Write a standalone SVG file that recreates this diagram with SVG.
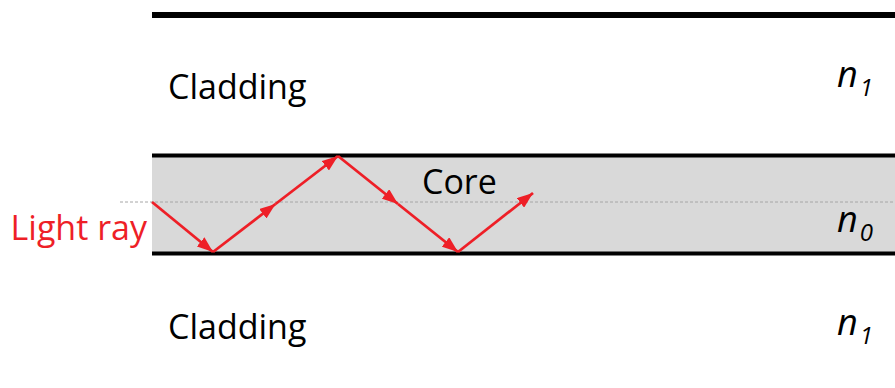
<svg xmlns="http://www.w3.org/2000/svg" width="895" height="388" viewBox="0 0 895 388">
  <style>
    .label { font-family: "Open Sans", "Liberation Sans", sans-serif; font-size: 34px; fill: #000; }
    .idx { font-family: "Open Sans", "Liberation Sans", sans-serif; font-size: 36px; font-style: italic; fill: #000; }
    .sub { font-size: 24px; }
    .wall { stroke: #000; fill: none; }
    .ray { stroke: #ee1f27; stroke-width: 2.8; fill: none; marker-end: url(#head); }
  </style>
  <defs>
    <marker id="head" viewBox="0 0 16 12" markerWidth="16" markerHeight="12" refX="16" refY="6" orient="auto" markerUnits="userSpaceOnUse">
      <path d="M0,0 L16,6 L0,12 z" fill="#ee1f27"/>
    </marker>
  </defs>

  <!-- outer cladding boundary -->
  <g id="outer-boundary">
    <line class="wall" x1="152" y1="15" x2="895" y2="15" stroke-width="6"/>
  </g>

  <!-- fibre core -->
  <g id="core">
    <rect x="152" y="155" width="743" height="98" fill="#d9d9d9"/>
    <line class="wall" x1="152" y1="155.5" x2="895" y2="155.5" stroke-width="4"/>
    <line class="wall" x1="152" y1="253.5" x2="895" y2="253.5" stroke-width="4"/>
    <text class="label" x="422" y="194">Core</text>
  </g>

  <!-- fibre axis -->
  <g id="axis">
    <line x1="120" y1="202" x2="895" y2="202" stroke="#a6a6a6" stroke-width="1" stroke-dasharray="3,2"/>
  </g>

  <g id="cladding-top">
    <text class="label" x="168" y="99">Cladding</text>
    <text class="idx" x="837" y="87">n<tspan class="sub" dx="2" dy="9">1</tspan></text>
  </g>

  <g id="cladding-bottom">
    <text class="label" x="168" y="339">Cladding</text>
    <text class="idx" x="837" y="335">n<tspan class="sub" dx="2" dy="9">1</tspan></text>
  </g>

  <g id="core-index">
    <text class="idx" x="837" y="232">n<tspan class="sub" dx="2" dy="9">0</tspan></text>
  </g>

  <g id="light-ray-label">
    <text class="label" x="147" y="240" text-anchor="end" style="fill:#ee1f27">Light ray</text>
  </g>

  <!-- zig-zag ray with total internal reflection -->
  <g id="connectors">
    <path class="ray" d="M152,202 L213,252"/>
    <path class="ray" d="M213,252 L275.5,204"/>
    <path class="ray" d="M275.5,204 L338,156"/>
    <path class="ray" d="M338,156 L398,204"/>
    <path class="ray" d="M398,204 L458,252"/>
    <path class="ray" d="M458,252 L533,193"/>
  </g>
</svg>
